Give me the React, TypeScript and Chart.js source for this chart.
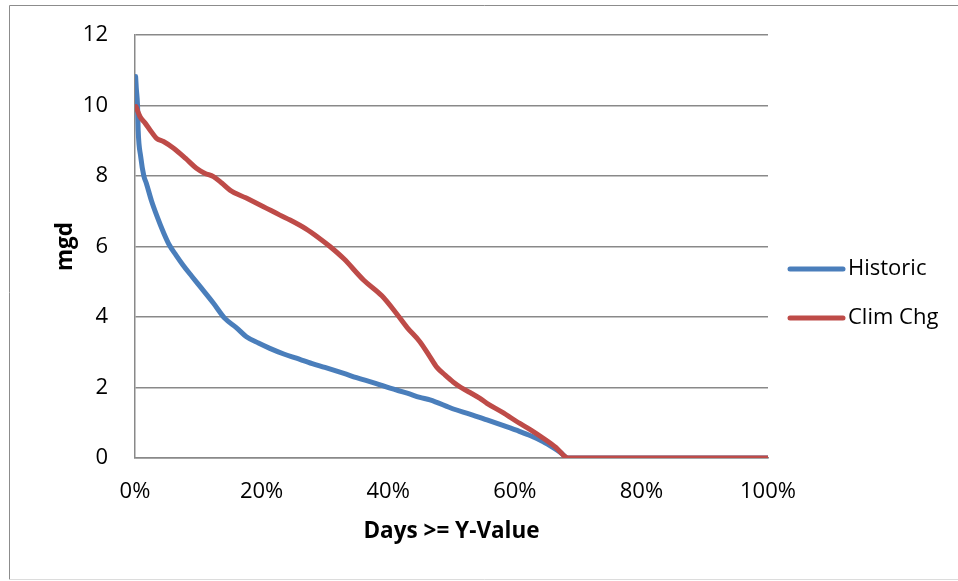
import React, { useEffect, useRef } from "react";
import { Chart, registerables } from "chart.js";

Chart.register(...registerables);

// ---- data ----
const seriesNames = ["Historic", "Clim Chg"];

const historicPct = [
  0.001, 0.002, 0.004, 0.005, 0.009, 0.014, 0.018, 0.026, 0.035, 0.045, 0.054,
  0.065, 0.076, 0.09, 0.103, 0.124, 0.142, 0.16, 0.176, 0.195, 0.213, 0.235,
  0.255, 0.28, 0.3, 0.33, 0.35, 0.38, 0.403, 0.43, 0.45, 0.466, 0.503, 0.53,
  0.556, 0.58, 0.608, 0.625, 0.645, 0.66, 0.672, 0.684, 0.8, 0.9, 1.0,
];
const historicMgd = [
  10.82, 10.5, 10.0, 9.3, 8.55, 8.0, 7.79, 7.3, 6.85, 6.4, 6.05,
  5.75, 5.47, 5.15, 4.86, 4.39, 3.96, 3.7, 3.44, 3.26, 3.11, 2.95,
  2.83, 2.68, 2.57, 2.4, 2.28, 2.12, 1.98, 1.84, 1.72, 1.65, 1.39, 1.24,
  1.08, 0.93, 0.75, 0.63, 0.46, 0.3, 0.16, 0.0, 0.0, 0.0, 0.0,
];

const climPct = [
  0.0015, 0.008, 0.016, 0.024, 0.034, 0.045, 0.061, 0.08, 0.097, 0.11, 0.124,
  0.137, 0.15, 0.175, 0.203, 0.229, 0.245, 0.27, 0.29, 0.308, 0.33, 0.361,
  0.39, 0.413, 0.43, 0.45, 0.465, 0.477, 0.49, 0.503, 0.515, 0.53, 0.545,
  0.556, 0.58, 0.608, 0.625, 0.645, 0.665, 0.684, 0.8, 0.9, 1.0,
];
const climMgd = [
  9.97, 9.68, 9.5, 9.3, 9.07, 8.98, 8.79, 8.5, 8.22, 8.08, 7.98,
  7.8, 7.6, 7.38, 7.13, 6.89, 6.75, 6.5, 6.25, 6.0, 5.65, 5.05,
  4.6, 4.1, 3.7, 3.3, 2.9, 2.57, 2.35, 2.15, 2.0, 1.85, 1.69,
  1.55, 1.3, 0.98, 0.8, 0.56, 0.3, 0.0, 0.0, 0.0, 0.0,
];

const yTickValues = [0, 2, 4, 6, 8, 10, 12];
const xTickValues = [0, 0.2, 0.4, 0.6, 0.8, 1.0];

const xTitle = "Days >= Y-Value";
const yTitle = "mgd";

const colors = ["#4a7ebb", "#be4b48"];
const FONT = "'Open Sans', 'Noto Sans', sans-serif";

const borderPlugin = {
  id: "outerBorder",
  beforeDraw(chart: any) {
    const ctx = chart.ctx;
    ctx.save();
    ctx.lineWidth = 1;
    ctx.strokeStyle = "#8c8c8c";
    ctx.beginPath();
    ctx.moveTo(970, 5.5);
    ctx.lineTo(9.5, 5.5);
    ctx.lineTo(9.5, 579.5);
    ctx.stroke();
    ctx.strokeStyle = "#dcdcdc";
    ctx.beginPath();
    ctx.moveTo(9.5, 579.5);
    ctx.lineTo(970, 579.5);
    ctx.stroke();
    ctx.restore();
  },
};

const legendPlugin = {
  id: "sideLegend",
  afterDraw(chart: any) {
    const ctx = chart.ctx;
    ctx.save();
    const ys = [269, 318];
    chart.data.datasets.forEach((ds: any, i: number) => {
      const y = ys[i];
      ctx.strokeStyle = ds.borderColor;
      ctx.lineWidth = 5;
      ctx.lineCap = "round";
      ctx.beginPath();
      ctx.moveTo(790, y);
      ctx.lineTo(843, y);
      ctx.stroke();
      ctx.fillStyle = "#000";
      ctx.font = `22px ${FONT}`;
      ctx.textBaseline = "middle";
      ctx.textAlign = "left";
      ctx.fillText(ds.label, 848, y);
    });
    ctx.restore();
  },
};

export default function App() {
  const ref = useRef<HTMLCanvasElement | null>(null);

  useEffect(() => {
    if (!ref.current) return;
    const toPts = (xs: number[], ys: number[]) => xs.map((x, i) => ({ x, y: ys[i] }));
    const chart = new Chart(ref.current, {
      type: "line",
      data: {
        datasets: [
          {
            label: seriesNames[0],
            data: toPts(historicPct, historicMgd),
            borderColor: colors[0],
            backgroundColor: colors[0],
            borderWidth: 5,
            pointRadius: 0,
            cubicInterpolationMode: "monotone",
            borderCapStyle: "round",
            borderJoinStyle: "round",
            order: 1,
          },
          {
            label: seriesNames[1],
            data: toPts(climPct, climMgd),
            borderColor: colors[1],
            backgroundColor: colors[1],
            borderWidth: 5,
            pointRadius: 0,
            cubicInterpolationMode: "monotone",
            borderCapStyle: "round",
            borderJoinStyle: "round",
            order: 0,
          },
        ],
      },
      options: {
        responsive: false,
        animation: false,
        layout: { padding: { top: 35, right: 190, left: 0, bottom: 0 } },
        plugins: {
          legend: { display: false },
          tooltip: { enabled: false },
        },
        scales: {
          x: {
            type: "linear",
            min: 0,
            max: 1,
            afterFit: (s: any) => {
              s.height = 123;
            },
            afterBuildTicks: (s: any) => {
              s.ticks = xTickValues.map((v) => ({ value: v }));
            },
            ticks: {
              padding: 21,
              color: "#000",
              font: { family: FONT, size: 22 },
              maxRotation: 0,
              callback: (v: any) => `${Math.round(Number(v) * 100)}%`,
            },
            grid: { display: false, drawTicks: false },
            border: { display: true, color: "#898989", width: 1.5 },
            title: {
              display: true,
              text: xTitle,
              color: "#000",
              font: { family: FONT, size: 22.5, weight: "bold" },
              padding: { top: 0, bottom: 36 },
            },
          },
          y: {
            type: "linear",
            min: 0,
            max: 12,
            afterFit: (s: any) => {
              s.width = 135;
              s.paddingTop = 0;
              s.paddingBottom = 0;
            },
            afterBuildTicks: (s: any) => {
              s.ticks = yTickValues.map((v) => ({ value: v }));
            },
            ticks: {
              padding: 27,
              color: "#000",
              font: { family: FONT, size: 22 },
            },
            grid: { color: "#898989", lineWidth: 1.5, drawTicks: false },
            border: { display: true, color: "#898989", width: 1.5 },
            title: {
              display: true,
              text: yTitle,
              color: "#000",
              font: { family: FONT, size: 22.5, weight: "bold" },
              padding: { top: 52, bottom: 0 },
            },
          },
        },
      },
      plugins: [borderPlugin, legendPlugin],
    } as any);
    return () => chart.destroy();
  }, []);

  return (
    <div style={{ position: "fixed", left: 0, top: 0, width: 958, height: 581, background: "#fff" }}>
      <canvas ref={ref} width={958} height={581} style={{ width: 958, height: 581, display: "block" }} />
    </div>
  );
}
